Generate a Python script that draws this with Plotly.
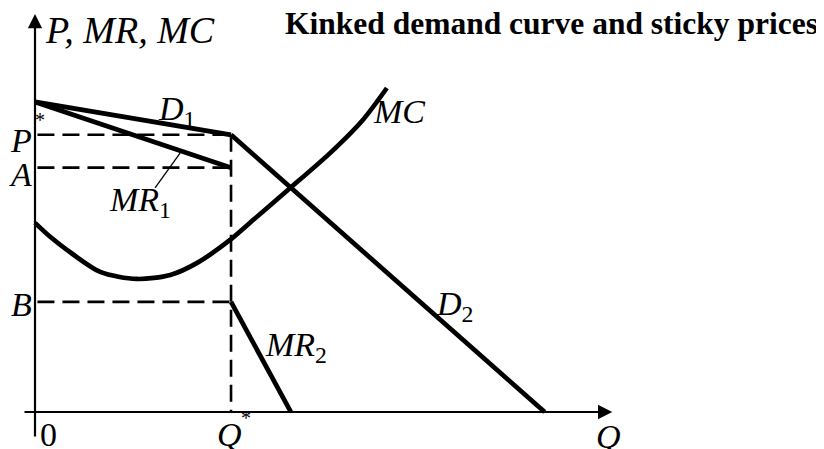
import plotly.graph_objects as go

# ---- data (economic units) ----
q_star = 4.0
p_intercept = 10.0
p_star = 8.94
a_level = 7.88
b_level = 3.55
d2_end_q = 10.4
mr2_end_q = 5.22

d1_q = [0.0, q_star]
d1_p = [p_intercept, p_star]
d2_q = [q_star, d2_end_q]
d2_p = [p_star, 0.0]
mr1_q = [0.0, q_star]
mr1_p = [p_intercept, a_level]
mr2_q = [q_star, mr2_end_q]
mr2_p = [b_level, 0.0]

mc_q = [0.0, 0.31, 0.65, 1.33, 2.08, 2.76, 3.31, 3.98, 4.45, 5.16, 6.02, 6.69, 7.18]
mc_p = [6.10, 5.65, 5.23, 4.52, 4.29, 4.42, 4.81, 5.55, 6.19, 7.16, 8.35, 9.42, 10.45]

# the page body adds an 8px margin; figure is sized to fill the rest of the window
FIG_W, FIG_H = 816, 441
x_range = [-0.551, 16.10]
y_range = [-1.194, 13.03]

FONT = "Liberation Serif"
BLACK = "#000000"

fig = go.Figure()

solid = dict(color=BLACK, width=4.7)
dash = dict(color=BLACK, width=2.6, dash="17px,8px")

# dashed guide lines
fig.add_trace(go.Scatter(x=[0.05, q_star], y=[p_star, p_star], mode="lines", line=dash, hoverinfo="skip"))
fig.add_trace(go.Scatter(x=[0.05, q_star], y=[a_level, a_level], mode="lines", line=dash, hoverinfo="skip"))
fig.add_trace(go.Scatter(x=[0.05, q_star], y=[b_level, b_level], mode="lines", line=dash, hoverinfo="skip"))
fig.add_trace(go.Scatter(x=[q_star, q_star], y=[p_star, 0.0], mode="lines", line=dash, hoverinfo="skip"))

# curves
fig.add_trace(go.Scatter(x=d1_q, y=d1_p, mode="lines", line=solid, hoverinfo="skip"))
fig.add_trace(go.Scatter(x=d2_q, y=d2_p, mode="lines", line=solid, hoverinfo="skip"))
fig.add_trace(go.Scatter(x=mr1_q, y=mr1_p, mode="lines", line=solid, hoverinfo="skip"))
fig.add_trace(go.Scatter(x=mr2_q, y=mr2_p, mode="lines", line=solid, hoverinfo="skip"))
fig.add_trace(go.Scatter(x=mc_q, y=mc_p, mode="lines",
                         line=dict(color=BLACK, width=4.7, shape="spline", smoothing=0.8), hoverinfo="skip"))

# leader line for MR1 label
fig.add_trace(go.Scatter(x=[2.96, 2.45], y=[8.35, 7.23], mode="lines",
                         line=dict(color=BLACK, width=1.3), hoverinfo="skip"))

annotations = []
# axes drawn as arrows
annotations.append(dict(x=0, y=12.84, ax=0, ay=-0.84, xref="x", yref="y", axref="x", ayref="y",
                        text="", showarrow=True, arrowhead=2, arrowsize=1.3, arrowwidth=2.2,
                        arrowcolor=BLACK, standoff=0))
annotations.append(dict(x=11.78, y=0, ax=-0.245, ay=0, xref="x", yref="y", axref="x", ayref="y",
                        text="", showarrow=True, arrowhead=2, arrowsize=1.3, arrowwidth=2.2,
                        arrowcolor=BLACK, standoff=0))


def label(text, x, y, xanchor="center", yanchor="middle", size=34):
    annotations.append(dict(x=x, y=y, xref="x", yref="y", text=text, showarrow=False,
                            xanchor=xanchor, yanchor=yanchor,
                            font=dict(family=FONT, size=size, color=BLACK)))


label("<i>P, MR, MC</i>", 0.16, 12.32, xanchor="left", size=38)
label("<i>P</i>", -0.02, 8.76, xanchor="right")
label("*", 0.11, 9.42, size=20)
label("<i>A</i>", -0.02, 7.66, xanchor="right")
label("<i>B</i>", -0.02, 3.48, xanchor="right")
label("0", 0.27, -0.74)
label("<i>Q</i>", 3.96, -0.72)
label("*", 4.30, -0.19, size=20)
label("<i>Q</i>", 11.7, -0.8)
label("<i>D</i><sub>1</sub>", 2.89, 9.72)
label("<i>MC</i>", 6.85, 9.68, xanchor="left")
label("<i>MR</i><sub>1</sub>", 2.14, 6.77)
label("<i>D</i><sub>2</sub>", 8.55, 3.42)
label("<i>MR</i><sub>2</sub>", 5.32, 2.1)

annotations.append(dict(x=(285 - 8 - 2) / FIG_W, y=1 - (24 - 8) / FIG_H, xref="paper", yref="paper",
                        text="<b>Kinked demand curve and sticky prices</b>", showarrow=False,
                        xanchor="left", yanchor="middle",
                        font=dict(family=FONT, size=31.5, color=BLACK)))

fig.update_layout(
    width=FIG_W, height=FIG_H,
    margin=dict(l=0, r=0, t=0, b=0),
    paper_bgcolor="white", plot_bgcolor="white",
    showlegend=False,
    xaxis=dict(range=x_range, visible=False, fixedrange=True),
    yaxis=dict(range=y_range, visible=False, fixedrange=True),
    annotations=annotations,
)

fig.write_html("out.html")
